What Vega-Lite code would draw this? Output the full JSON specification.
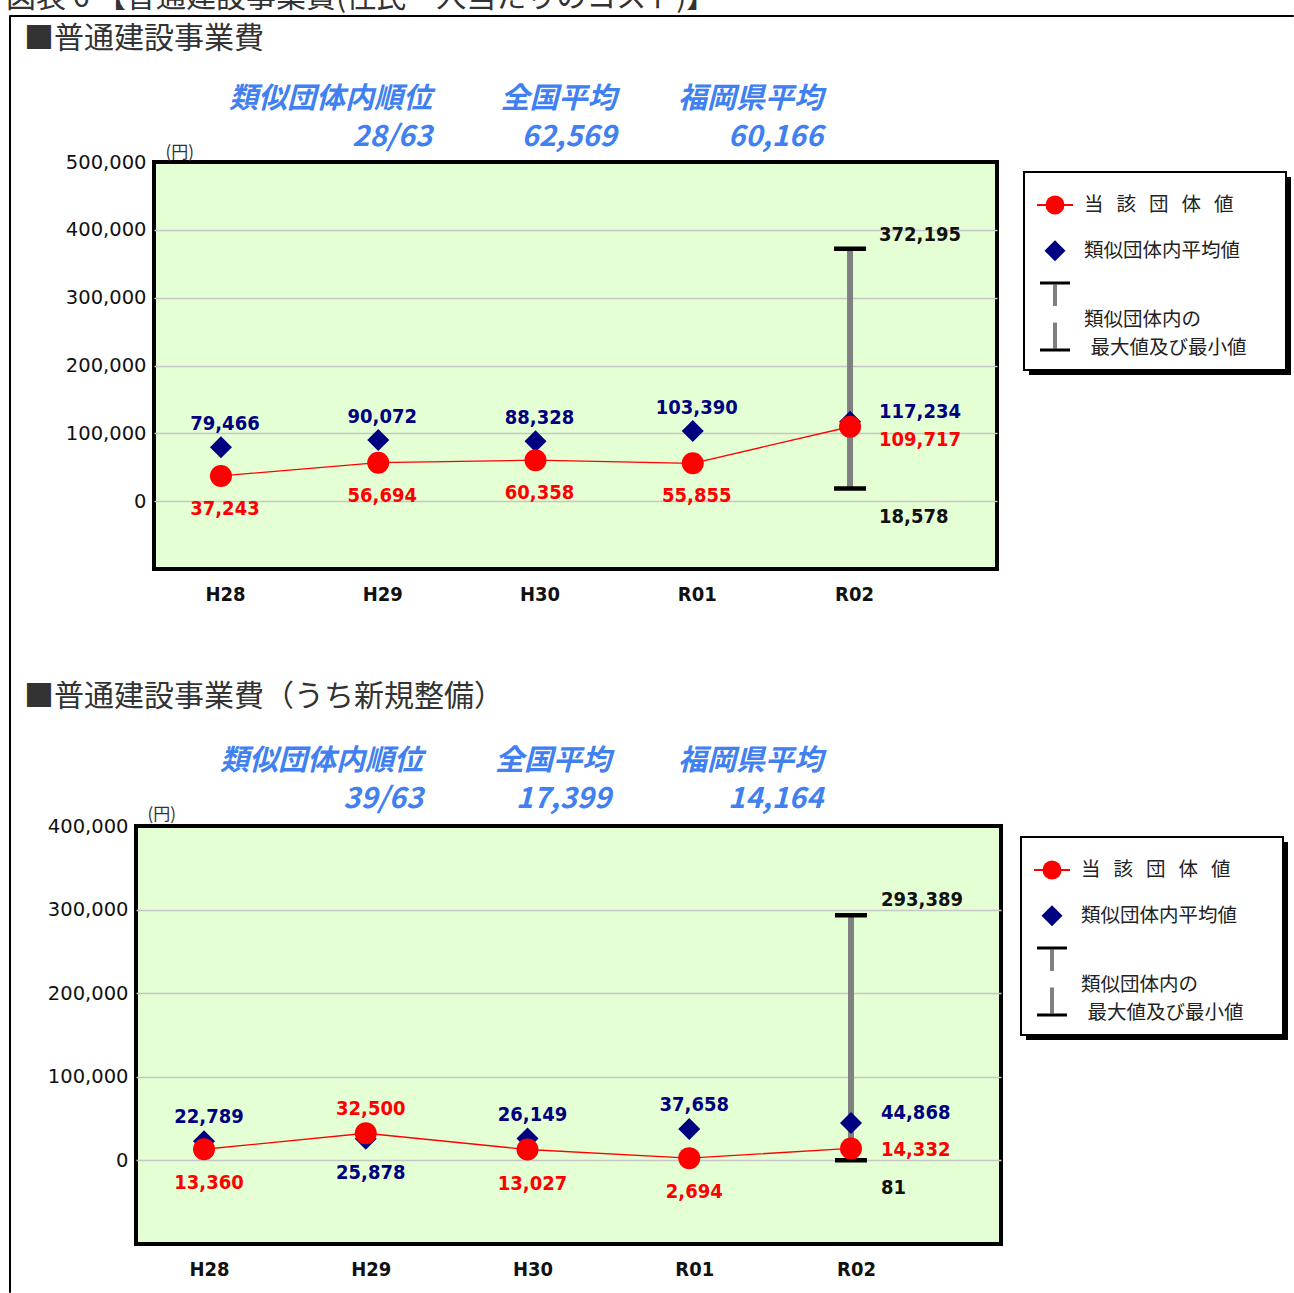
{
  "$schema": "https://vega.github.io/schema/vega-lite/v6.json",
  "padding": {"left": 5, "top": -18, "right": 0, "bottom": 0},
  "background": "white",
  "spacing": 0,
  "bounds": "flush",
  "config": {"view": {"stroke": null}, "concat": {"spacing": 0}, "font": "Noto Sans CJK JP"},
  "datasets": {
    "p1": [
      {"year": "H28", "value": 37243, "avg": 79466},
      {"year": "H29", "value": 56694, "avg": 90072},
      {"year": "H30", "value": 60358, "avg": 88328},
      {"year": "R01", "value": 55855, "avg": 103390},
      {"year": "R02", "value": 109717, "avg": 117234, "max": 372195, "min": 18578}
    ],
    "p2": [
      {"year": "H28", "value": 13360, "avg": 22789},
      {"year": "H29", "value": 32500, "avg": 25878},
      {"year": "H30", "value": 13027, "avg": 26149},
      {"year": "R01", "value": 2694, "avg": 37658},
      {"year": "R02", "value": 14332, "avg": 44868, "max": 293389, "min": 81}
    ],
    "h1": [
      {"col": "類似団体内順位", "row": "label", "text": "類似団体内順位"},
      {"col": "類似団体内順位", "row": "value", "text": "28/63"},
      {"col": "全国平均", "row": "label", "text": "全国平均"},
      {"col": "全国平均", "row": "value", "text": "62,569"},
      {"col": "福岡県平均", "row": "label", "text": "福岡県平均"},
      {"col": "福岡県平均", "row": "value", "text": "60,166"}
    ],
    "h2": [
      {"col": "類似団体内順位", "row": "label", "text": "類似団体内順位"},
      {"col": "類似団体内順位", "row": "value", "text": "39/63"},
      {"col": "全国平均", "row": "label", "text": "全国平均"},
      {"col": "全国平均", "row": "value", "text": "17,399"},
      {"col": "福岡県平均", "row": "label", "text": "福岡県平均"},
      {"col": "福岡県平均", "row": "value", "text": "14,164"}
    ],
    "legend": [
      {"key": "当該団体値", "label": "当\u2002\u2006該\u2002\u2006団\u2002\u2006体\u2002\u2006値"},
      {"key": "類似団体内平均値", "label": "類似団体内平均値"},
      {"key": "最大値及び最小値", "label": "類似団体内の\n\u200b\u2006\u2006最大値及び最小値"}
    ]
  },
  "vconcat": [
    {
      "concat": [
        {"width": 1020, "height": 162, "data": {"values": []}, "mark": "point"},
        {"width": 1, "height": 1, "data": {"values": []}, "mark": "point"},
        {"width": 1, "height": 1, "data": {"values": []}, "mark": "point"},
        {"width": 262, "height": 198, "view": {"fill": "#000000", "stroke": null}, "data": {"values": []}, "mark": "point"}
      ],
      "columns": 2, "spacing": 0, "bounds": "flush"
    },
    {
      "concat": [
        {"width": 1017, "height": 827, "data": {"values": []}, "mark": "point"},
        {"width": 1, "height": 1, "data": {"values": []}, "mark": "point"},
        {"width": 1, "height": 1, "data": {"values": []}, "mark": "point"},
        {"width": 262, "height": 198, "view": {"fill": "#000000", "stroke": null}, "data": {"values": []}, "mark": "point"}
      ],
      "columns": 2, "spacing": 0, "bounds": "flush"
    },
    {
      "concat": [
        {"width": 145, "height": 1, "data": {"values": []}, "mark": "point"},
        {
          "width": 843, "height": 147,
          "data": {"name": "h1"},
          "title": {
            "text": "■普通建設事業費",
            "anchor": "start", "frame": "group", "orient": "top",
            "dx": -130, "offset": -38.5,
            "font": "Noto Sans CJK JP", "fontSize": 30, "fontWeight": "normal", "color": "#333333"
          },
          "mark": {"type": "text", "font": "Noto Sans CJK JP", "fontSize": 29, "fontWeight": "bold", "fontStyle": "italic", "align": "right", "baseline": "middle", "color": "#4080f0", "dx": {"expr": "datum.col == '全国平均' ? -11 : 0"}},
          "encoding": {
            "x": {"field": "col", "type": "nominal", "scale": {"type": "point", "domain": ["類似団体内順位", "全国平均", "福岡県平均"], "range": [278, 669], "padding": 0}, "axis": null},
            "y": {"field": "row", "type": "nominal", "scale": {"type": "point", "domain": ["label", "value"], "range": [84, 122], "padding": 0}, "axis": null},
            "text": {"field": "text", "type": "nominal"}
          }
        },
        {"width": 1, "height": 1, "data": {"values": []}, "mark": "point"},
        {
          "width": 843, "height": 407,
          "view": {"fill": "#e5ffd4", "stroke": "#000000", "strokeWidth": 4},
          "data": {"name": "p1"},
          "encoding": {
            "x": {"field": "year", "type": "ordinal", "scale": {"type": "point", "domain": ["H28", "H29", "H30", "R01", "R02"], "padding": 0.68, "align": 0.313},
              "axis": {"title": null, "labelAngle": 0, "labelFont": "DejaVu Sans Condensed, DejaVu Sans", "labelFontWeight": "bold", "labelFontSize": 20, "labelColor": "#111111", "labelPadding": 15, "labelOffset": 4, "grid": false, "domain": false, "ticks": false}}
          },
          "layer": [
            {"transform": [{"filter": "isValid(datum.max)"}],
              "mark": {"type": "rule", "color": "#808080", "strokeWidth": 6},
              "encoding": {
                "y": {"field": "max", "type": "quantitative", "scale": {"domain": [-100000, 500000], "nice": false, "zero": false},
                  "axis": {"title": "(円)", "titleAngle": 0, "titleAlign": "left", "titleBaseline": "middle", "titleX": 11, "titleY": -10, "titleFont": "Noto Sans CJK JP", "titleFontSize": 17, "titleFontWeight": "normal", "titleColor": "#333333",
                    "values": [0, 100000, 200000, 300000, 400000, 500000], "labelExpr": "format(datum.value, ',')", "labelFont": "DejaVu Sans", "labelFontSize": 19.5, "labelColor": "#111111", "labelPadding": 8,
                    "grid": true, "gridColor": "#c6c6c6", "gridWidth": 1.5, "gridOpacity": {"condition": {"test": "datum.value === 500000", "value": 0}, "value": 1}, "domain": false, "ticks": false}},
                "y2": {"field": "min"}
              }},
            {"transform": [{"filter": "isValid(datum.max)"}],
              "mark": {"type": "tick", "orient": "horizontal", "size": 32, "thickness": 4.5, "color": "#000000", "opacity": 1},
              "encoding": {"y": {"field": "max", "type": "quantitative"}}},
            {"transform": [{"filter": "isValid(datum.min)"}],
              "mark": {"type": "tick", "orient": "horizontal", "size": 32, "thickness": 4.5, "color": "#000000", "opacity": 1},
              "encoding": {"y": {"field": "min", "type": "quantitative"}}},
            {"mark": {"type": "line", "color": "#ff0000", "strokeWidth": 1.3},
              "encoding": {"y": {"field": "value", "type": "quantitative"}}},
            {"mark": {"type": "point", "shape": "diamond", "size": 484, "filled": true, "color": "#000080", "opacity": 1},
              "encoding": {"y": {"field": "avg", "type": "quantitative"}}},
            {"mark": {"type": "point", "shape": "circle", "size": 484, "filled": true, "color": "#ff0000", "opacity": 1},
              "encoding": {"y": {"field": "value", "type": "quantitative"}}},
            {"transform": [{"filter": "datum.year != 'R02'"}],
              "mark": {"type": "text", "font": "DejaVu Sans Condensed, DejaVu Sans", "fontWeight": "bold", "fontSize": 20, "baseline": "middle", "align": "center", "dx": 4, "dy": 33, "color": "#ff0000"},
              "encoding": {"y": {"field": "value", "type": "quantitative"}, "text": {"field": "value", "type": "quantitative", "format": ","}}},
            {"transform": [{"filter": "datum.year == 'R02'"}],
              "mark": {"type": "text", "font": "DejaVu Sans Condensed, DejaVu Sans", "fontWeight": "bold", "fontSize": 20, "baseline": "middle", "align": "left", "dx": 29, "dy": 13, "color": "#ff0000"},
              "encoding": {"y": {"field": "value", "type": "quantitative"}, "text": {"field": "value", "type": "quantitative", "format": ","}}},
            {"transform": [{"filter": "datum.year != 'R02'"}],
              "mark": {"type": "text", "font": "DejaVu Sans Condensed, DejaVu Sans", "fontWeight": "bold", "fontSize": 20, "baseline": "middle", "align": "center", "dx": 4, "dy": -23, "color": "#000080"},
              "encoding": {"y": {"field": "avg", "type": "quantitative"}, "text": {"field": "avg", "type": "quantitative", "format": ","}}},
            {"transform": [{"filter": "datum.year == 'R02'"}],
              "mark": {"type": "text", "font": "DejaVu Sans Condensed, DejaVu Sans", "fontWeight": "bold", "fontSize": 20, "baseline": "middle", "align": "left", "dx": 29, "dy": -10, "color": "#000080"},
              "encoding": {"y": {"field": "avg", "type": "quantitative"}, "text": {"field": "avg", "type": "quantitative", "format": ","}}},
            {"transform": [{"filter": "isValid(datum.max)"}],
              "mark": {"type": "text", "font": "DejaVu Sans Condensed, DejaVu Sans", "fontWeight": "bold", "fontSize": 20, "baseline": "middle", "align": "left", "dx": 29, "dy": -14, "color": "#111111"},
              "encoding": {"y": {"field": "max", "type": "quantitative"}, "text": {"field": "max", "type": "quantitative", "format": ","}}},
            {"transform": [{"filter": "isValid(datum.min)"}],
              "mark": {"type": "text", "font": "DejaVu Sans Condensed, DejaVu Sans", "fontWeight": "bold", "fontSize": 20, "baseline": "middle", "align": "left", "dx": 29, "dy": 28, "color": "#111111"},
              "encoding": {"y": {"field": "min", "type": "quantitative"}, "text": {"field": "min", "type": "quantitative", "format": ","}}}
          ]
        }
      ],
      "columns": 2, "spacing": 0, "bounds": "flush"
    },
    {
      "concat": [
        {"width": 1015, "height": 157, "data": {"values": []}, "mark": "point"},
        {"width": 1, "height": 1, "data": {"values": []}, "mark": "point"},
        {"width": 1, "height": 1, "data": {"values": []}, "mark": "point"},
        {
          "width": 262, "height": 198,
          "view": {"fill": "#ffffff", "stroke": "#000000", "strokeWidth": 2},
          "data": {"name": "legend"},
          "encoding": {
            "x": {"datum": "symbol", "type": "nominal", "scale": {"type": "point", "domain": ["symbol", "label"], "range": [31, 60], "padding": 0}, "axis": null},
            "y": {"field": "key", "type": "nominal", "scale": {"type": "point", "domain": ["当該団体値", "類似団体内平均値", "最大値及び最小値"], "range": [33, 144.5], "padding": 0}, "axis": null}
          },
          "layer": [
            {"transform": [{"filter": "datum.key == '当該団体値'"}], "mark": {"type": "point", "shape": "M-1.8,0H1.8", "size": 400, "filled": false, "stroke": "#ff0000", "strokeWidth": 2, "opacity": 1}},
            {"transform": [{"filter": "datum.key == '当該団体値'"}], "mark": {"type": "point", "shape": "circle", "size": 361, "filled": true, "color": "#ff0000", "opacity": 1}},
            {"transform": [{"filter": "datum.key == '類似団体内平均値'"}], "mark": {"type": "point", "shape": "diamond", "size": 441, "filled": true, "color": "#000080", "opacity": 1}, "encoding": {"yOffset": {"value": -10}}},
            {"transform": [{"filter": "datum.key == '最大値及び最小値'"}], "mark": {"type": "point", "shape": "M-0.2,-3.2H0.2V-1.05H-0.2Z M-0.2,0.6H0.2V3.2H-0.2Z", "size": 400, "filled": true, "color": "#808080", "opacity": 1}},
            {"transform": [{"filter": "datum.key == '最大値及び最小値'"}], "mark": {"type": "point", "shape": "M-1.5,-3.5H1.5V-3.2H-1.5Z M-1.5,3.2H1.5V3.5H-1.5Z", "size": 400, "filled": true, "color": "#000000", "opacity": 1}},
            {"transform": [{"filter": "datum.key == '当該団体値'"}], "mark": {"type": "text", "font": "Noto Sans CJK JP", "fontSize": 19.5, "align": "left", "baseline": "middle", "color": "#222222"},
              "encoding": {"x": {"datum": "label"}, "text": {"field": "label", "type": "nominal"}}},
            {"transform": [{"filter": "datum.key == '類似団体内平均値'"}], "mark": {"type": "text", "font": "Noto Sans CJK JP", "fontSize": 19.5, "align": "left", "baseline": "middle", "color": "#222222"},
              "encoding": {"x": {"datum": "label"}, "yOffset": {"value": -10}, "text": {"field": "label", "type": "nominal"}}},
            {"transform": [{"filter": "datum.key == '最大値及び最小値'"}], "mark": {"type": "text", "font": "Noto Sans CJK JP", "fontSize": 19.5, "align": "left", "baseline": "middle", "color": "#222222", "lineBreak": "\n", "lineHeight": 28, "dy": 3.5},
              "encoding": {"x": {"datum": "label"}, "text": {"field": "label", "type": "nominal"}}}
          ]
        }
      ],
      "columns": 2, "spacing": 0, "bounds": "flush"
    },
    {
      "concat": [
        {"width": 127, "height": 553, "data": {"values": []}, "mark": "point"},
        {"width": 1, "height": 1, "data": {"values": []}, "mark": "point"},
        {"width": 1, "height": 1, "data": {"values": []}, "mark": "point"},
        {
          "width": 865, "height": 258,
          "data": {"name": "h2"},
          "title": {
            "text": "■普通建設事業費（うち新規整備）",
            "anchor": "start", "frame": "group", "orient": "top",
            "dx": -112, "offset": -143.5,
            "font": "Noto Sans CJK JP", "fontSize": 30, "fontWeight": "normal", "color": "#333333"
          },
          "mark": {"type": "text", "font": "Noto Sans CJK JP", "fontSize": 29, "fontWeight": "bold", "fontStyle": "italic", "align": "right", "baseline": "middle", "color": "#4080f0", "dx": {"expr": "datum.col == '全国平均' ? -12 : 0"}},
          "encoding": {
            "x": {"field": "col", "type": "nominal", "scale": {"type": "point", "domain": ["類似団体内順位", "全国平均", "福岡県平均"], "range": [287, 687], "padding": 0}, "axis": null},
            "y": {"field": "row", "type": "nominal", "scale": {"type": "point", "domain": ["label", "value"], "range": [193, 231], "padding": 0}, "axis": null},
            "text": {"field": "text", "type": "nominal"}
          }
        },
        {"width": 1, "height": 1, "data": {"values": []}, "mark": "point"},
        {
          "width": 865, "height": 418,
          "view": {"fill": "#e5ffd4", "stroke": "#000000", "strokeWidth": 4},
          "data": {"name": "p2"},
          "encoding": {
            "x": {"field": "year", "type": "ordinal", "scale": {"type": "point", "domain": ["H28", "H29", "H30", "R01", "R02"], "padding": 0.674, "align": 0.312},
              "axis": {"title": null, "labelAngle": 0, "labelFont": "DejaVu Sans Condensed, DejaVu Sans", "labelFontWeight": "bold", "labelFontSize": 20, "labelColor": "#111111", "labelPadding": 15, "labelOffset": 5, "grid": false, "domain": false, "ticks": false}}
          },
          "layer": [
            {"transform": [{"filter": "isValid(datum.max)"}],
              "mark": {"type": "rule", "color": "#808080", "strokeWidth": 6},
              "encoding": {
                "y": {"field": "max", "type": "quantitative", "scale": {"domain": [-100000, 400000], "nice": false, "zero": false},
                  "axis": {"title": "(円)", "titleAngle": 0, "titleAlign": "left", "titleBaseline": "middle", "titleX": 11, "titleY": -12, "titleFont": "Noto Sans CJK JP", "titleFontSize": 17, "titleFontWeight": "normal", "titleColor": "#333333",
                    "values": [0, 100000, 200000, 300000, 400000], "labelExpr": "format(datum.value, ',')", "labelFont": "DejaVu Sans", "labelFontSize": 19.5, "labelColor": "#111111", "labelPadding": 8,
                    "grid": true, "gridColor": "#c6c6c6", "gridWidth": 1.5, "gridOpacity": {"condition": {"test": "datum.value === 400000", "value": 0}, "value": 1}, "domain": false, "ticks": false}},
                "y2": {"field": "min"}
              }},
            {"transform": [{"filter": "isValid(datum.max)"}],
              "mark": {"type": "tick", "orient": "horizontal", "size": 32, "thickness": 4.5, "color": "#000000", "opacity": 1},
              "encoding": {"y": {"field": "max", "type": "quantitative"}}},
            {"transform": [{"filter": "isValid(datum.min)"}],
              "mark": {"type": "tick", "orient": "horizontal", "size": 32, "thickness": 4.5, "color": "#000000", "opacity": 1},
              "encoding": {"y": {"field": "min", "type": "quantitative"}}},
            {"mark": {"type": "line", "color": "#ff0000", "strokeWidth": 1.3},
              "encoding": {"y": {"field": "value", "type": "quantitative"}}},
            {"mark": {"type": "point", "shape": "diamond", "size": 484, "filled": true, "color": "#000080", "opacity": 1},
              "encoding": {"y": {"field": "avg", "type": "quantitative"}}},
            {"mark": {"type": "point", "shape": "circle", "size": 484, "filled": true, "color": "#ff0000", "opacity": 1},
              "encoding": {"y": {"field": "value", "type": "quantitative"}}},
            {"transform": [{"filter": "indexof(['H28','H30','R01'], datum.year) >= 0"}],
              "mark": {"type": "text", "font": "DejaVu Sans Condensed, DejaVu Sans", "fontWeight": "bold", "fontSize": 20, "baseline": "middle", "align": "center", "dx": 5, "dy": 34, "color": "#ff0000"},
              "encoding": {"y": {"field": "value", "type": "quantitative"}, "text": {"field": "value", "type": "quantitative", "format": ","}}},
            {"transform": [{"filter": "datum.year == 'H29'"}],
              "mark": {"type": "text", "font": "DejaVu Sans Condensed, DejaVu Sans", "fontWeight": "bold", "fontSize": 20, "baseline": "middle", "align": "center", "dx": 5, "dy": -24, "color": "#ff0000"},
              "encoding": {"y": {"field": "value", "type": "quantitative"}, "text": {"field": "value", "type": "quantitative", "format": ","}}},
            {"transform": [{"filter": "datum.year == 'R02'"}],
              "mark": {"type": "text", "font": "DejaVu Sans Condensed, DejaVu Sans", "fontWeight": "bold", "fontSize": 20, "baseline": "middle", "align": "left", "dx": 30, "dy": 2, "color": "#ff0000"},
              "encoding": {"y": {"field": "value", "type": "quantitative"}, "text": {"field": "value", "type": "quantitative", "format": ","}}},
            {"transform": [{"filter": "indexof(['H28','H30','R01'], datum.year) >= 0"}],
              "mark": {"type": "text", "font": "DejaVu Sans Condensed, DejaVu Sans", "fontWeight": "bold", "fontSize": 20, "baseline": "middle", "align": "center", "dx": 5, "dy": -24, "color": "#000080"},
              "encoding": {"y": {"field": "avg", "type": "quantitative"}, "text": {"field": "avg", "type": "quantitative", "format": ","}}},
            {"transform": [{"filter": "datum.year == 'H29'"}],
              "mark": {"type": "text", "font": "DejaVu Sans Condensed, DejaVu Sans", "fontWeight": "bold", "fontSize": 20, "baseline": "middle", "align": "center", "dx": 5, "dy": 34, "color": "#000080"},
              "encoding": {"y": {"field": "avg", "type": "quantitative"}, "text": {"field": "avg", "type": "quantitative", "format": ","}}},
            {"transform": [{"filter": "datum.year == 'R02'"}],
              "mark": {"type": "text", "font": "DejaVu Sans Condensed, DejaVu Sans", "fontWeight": "bold", "fontSize": 20, "baseline": "middle", "align": "left", "dx": 30, "dy": -10, "color": "#000080"},
              "encoding": {"y": {"field": "avg", "type": "quantitative"}, "text": {"field": "avg", "type": "quantitative", "format": ","}}},
            {"transform": [{"filter": "isValid(datum.max)"}],
              "mark": {"type": "text", "font": "DejaVu Sans Condensed, DejaVu Sans", "fontWeight": "bold", "fontSize": 20, "baseline": "middle", "align": "left", "dx": 30, "dy": -15, "color": "#111111"},
              "encoding": {"y": {"field": "max", "type": "quantitative"}, "text": {"field": "max", "type": "quantitative", "format": ","}}},
            {"transform": [{"filter": "isValid(datum.min)"}],
              "mark": {"type": "text", "font": "DejaVu Sans Condensed, DejaVu Sans", "fontWeight": "bold", "fontSize": 20, "baseline": "middle", "align": "left", "dx": 30, "dy": 28, "color": "#111111"},
              "encoding": {"y": {"field": "min", "type": "quantitative"}, "text": {"field": "min", "type": "quantitative", "format": ","}}}
          ]
        }
      ],
      "columns": 2, "spacing": 0, "bounds": "flush"
    },
    {
      "concat": [
        {"width": 1012, "height": 822, "data": {"values": []}, "mark": "point"},
        {"width": 1, "height": 1, "data": {"values": []}, "mark": "point"},
        {"width": 1, "height": 1, "data": {"values": []}, "mark": "point"},
        {
          "width": 262, "height": 198,
          "view": {"fill": "#ffffff", "stroke": "#000000", "strokeWidth": 2},
          "data": {"name": "legend"},
          "encoding": {
            "x": {"datum": "symbol", "type": "nominal", "scale": {"type": "point", "domain": ["symbol", "label"], "range": [31, 60], "padding": 0}, "axis": null},
            "y": {"field": "key", "type": "nominal", "scale": {"type": "point", "domain": ["当該団体値", "類似団体内平均値", "最大値及び最小値"], "range": [33, 144.5], "padding": 0}, "axis": null}
          },
          "layer": [
            {"transform": [{"filter": "datum.key == '当該団体値'"}], "mark": {"type": "point", "shape": "M-1.8,0H1.8", "size": 400, "filled": false, "stroke": "#ff0000", "strokeWidth": 2, "opacity": 1}},
            {"transform": [{"filter": "datum.key == '当該団体値'"}], "mark": {"type": "point", "shape": "circle", "size": 361, "filled": true, "color": "#ff0000", "opacity": 1}},
            {"transform": [{"filter": "datum.key == '類似団体内平均値'"}], "mark": {"type": "point", "shape": "diamond", "size": 441, "filled": true, "color": "#000080", "opacity": 1}, "encoding": {"yOffset": {"value": -10}}},
            {"transform": [{"filter": "datum.key == '最大値及び最小値'"}], "mark": {"type": "point", "shape": "M-0.2,-3.2H0.2V-1.05H-0.2Z M-0.2,0.6H0.2V3.2H-0.2Z", "size": 400, "filled": true, "color": "#808080", "opacity": 1}},
            {"transform": [{"filter": "datum.key == '最大値及び最小値'"}], "mark": {"type": "point", "shape": "M-1.5,-3.5H1.5V-3.2H-1.5Z M-1.5,3.2H1.5V3.5H-1.5Z", "size": 400, "filled": true, "color": "#000000", "opacity": 1}},
            {"transform": [{"filter": "datum.key == '当該団体値'"}], "mark": {"type": "text", "font": "Noto Sans CJK JP", "fontSize": 19.5, "align": "left", "baseline": "middle", "color": "#222222"},
              "encoding": {"x": {"datum": "label"}, "text": {"field": "label", "type": "nominal"}}},
            {"transform": [{"filter": "datum.key == '類似団体内平均値'"}], "mark": {"type": "text", "font": "Noto Sans CJK JP", "fontSize": 19.5, "align": "left", "baseline": "middle", "color": "#222222"},
              "encoding": {"x": {"datum": "label"}, "yOffset": {"value": -10}, "text": {"field": "label", "type": "nominal"}}},
            {"transform": [{"filter": "datum.key == '最大値及び最小値'"}], "mark": {"type": "text", "font": "Noto Sans CJK JP", "fontSize": 19.5, "align": "left", "baseline": "middle", "color": "#222222", "lineBreak": "\n", "lineHeight": 28, "dy": 3.5},
              "encoding": {"x": {"datum": "label"}, "text": {"field": "label", "type": "nominal"}}}
          ]
        }
      ],
      "columns": 2, "spacing": 0, "bounds": "flush"
    },
    {
      "width": 1284, "height": 1,
      "view": {"stroke": "#000000", "strokeWidth": 1},
      "title": {
        "text": "図表 6 【普通建設事業費(住民一人当たりのコスト)】",
        "anchor": "start", "frame": "group", "orient": "top",
        "dx": -3, "offset": 2,
        "font": "Noto Sans CJK JP", "fontSize": 30, "fontWeight": "normal", "color": "#333333"
      },
      "data": {"values": []}, "mark": "point"
    },
    {"width": 1, "height": 1276, "view": {"stroke": "#000000", "strokeWidth": 1}, "data": {"values": []}, "mark": "point"}
  ]
}
